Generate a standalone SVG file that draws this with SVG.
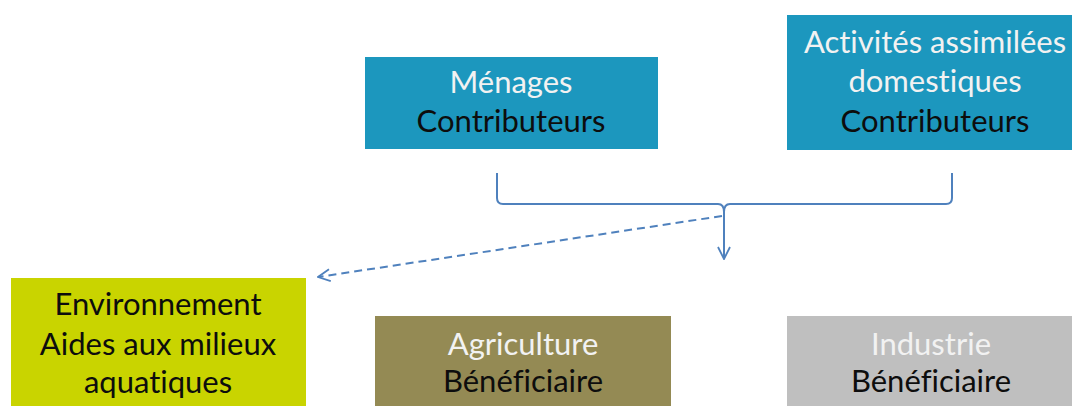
<svg xmlns="http://www.w3.org/2000/svg" width="1072" height="406" viewBox="0 0 1072 406">
<defs>
<style>
.t{font-family:"Lato","Open Sans","Liberation Sans",sans-serif;font-size:31px;text-anchor:middle;font-variant-ligatures:none}
.w{fill:#F2F2F2}
.k{fill:#0D0D0D}
.c{fill:none;stroke:#4F81BD;stroke-width:2}
</style>
<marker id="ah" viewBox="0 0 14 14" refX="13" refY="7" markerWidth="14" markerHeight="14" markerUnits="userSpaceOnUse" orient="auto">
<path d="M1,1 L13,7 L1,13" fill="none" stroke="#4F81BD" stroke-width="1.8"/>
</marker>
</defs>
<rect width="1072" height="406" fill="#FFFFFF"/>
<g id="menages">
<rect x="365" y="57" width="293" height="92" fill="#1C97BE"/>
<text class="t w" x="511" y="93">Ménages</text>
<text class="t k" x="511" y="132">Contributeurs</text>
</g>
<g id="activites">
<rect x="787" y="15" width="296" height="135" fill="#1C97BE"/>
<text class="t w" x="935" y="53">Activités assimilées</text>
<text class="t w" x="935" y="92">domestiques</text>
<text class="t k" x="935" y="132">Contributeurs</text>
</g>
<g id="environnement">
<rect x="11" y="278" width="295" height="140" fill="#C9D400"/>
<text class="t k" x="158" y="315">Environnement</text>
<text class="t k" x="158" y="355">Aides aux milieux</text>
<text class="t k" x="158" y="393">aquatiques</text>
</g>
<g id="agriculture">
<rect x="375" y="316" width="296" height="100" fill="#948A54"/>
<text class="t w" x="523" y="355">Agriculture</text>
<text class="t k" x="523" y="392">Bénéficiaire</text>
</g>
<g id="industrie">
<rect x="787" y="316" width="290" height="100" fill="#BFBFBF"/>
<text class="t w" x="931" y="355">Industrie</text>
<text class="t k" x="931" y="392">Bénéficiaire</text>
</g>
<g id="connectors">
<path class="c" d="M497,173 L497,198 Q497,204 503,204 L718,204 Q724,204 724,212 Q724,204 730,204 L946,204 Q952,204 952,198 L952,173"/>
<path class="c" d="M724,212 L724,259" marker-end="url(#ah)"/>
<path class="c" d="M722,216 L318,277" stroke-dasharray="8,5" marker-end="url(#ah)"/>
</g>
</svg>
